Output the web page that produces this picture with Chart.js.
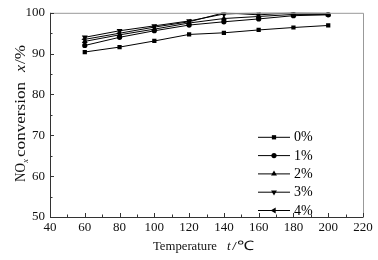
<!DOCTYPE html>
<html><head><meta charset="utf-8">
<script src="https://cdn.jsdelivr.net/npm/chart.js@4/dist/chart.umd.min.js"></script>
<style>html,body{margin:0;padding:0;background:#fff}#wrap{width:378px;height:260px}</style>
</head><body><div id="wrap"><canvas id="c" width="378" height="260"></canvas></div>
<script>
const temps = [60, 80, 100, 120, 140, 160, 180, 200];
const s0 = [90.4, 91.6, 93.1, 94.7, 95.1, 95.8, 96.4, 96.9];
const s1 = [92.0, 94.0, 95.6, 97.0, 97.8, 98.5, 99.3, 99.5];
const s2 = [93.0, 94.6, 96.0, 97.5, 98.6, 99.1, 99.6, 99.6];
const s3 = [94.0, 95.6, 96.8, 98.0, 99.7, 100.0, 100.0, 100.0];
const s4 = [93.5, 95.0, 96.5, 97.8, 100.0, 99.5, 100.0, 99.8];
const seriesNames = ['0%', '1%', '2%', '3%', '4%'];
const xTicks = [40, 60, 80, 100, 120, 140, 160, 180, 200, 220];
const yTicks = [50, 60, 70, 80, 90, 100];

const styles = [
  {ps:'rect', rot:0, r:3},
  {ps:'circle', rot:0, r:2.6},
  {ps:'triangle', rot:0, r:3.4},
  {ps:'triangle', rot:180, r:3.4},
  {ps:'triangle', rot:-90, r:3.4}
];
const allSeries = [s0, s1, s2, s3, s4];
const datasets = allSeries.map((s, i) => ({
  label: seriesNames[i],
  data: temps.map((t, j) => ({x: t, y: s[j]})),
  borderColor: '#000', backgroundColor: '#000', borderWidth: 1,
  pointStyle: styles[i].ps, pointRotation: styles[i].rot, pointRadius: styles[i].r,
  pointBorderWidth: 0, tension: 0
}));

const serif = '"Liberation Serif", "Times New Roman", serif';

function piece(ctx, text, pos, base, font, targetW) {
  ctx.save();
  ctx.font = font;
  const w = ctx.measureText(text).width;
  const sx = targetW ? targetW / w : 1;
  ctx.translate(pos, base);
  ctx.scale(sx, 1);
  ctx.fillText(text, 0, 0);
  ctx.restore();
}

const decor = {
  id: 'decor',
  afterDraw(chart) {
    const ctx = chart.ctx, a = chart.chartArea;
    const xs = chart.scales.x, ys = chart.scales.y;
    ctx.save();
    // frame
    ctx.strokeStyle = '#999'; ctx.lineWidth = 1;
    ctx.beginPath();
    ctx.moveTo(a.left, a.top + 0.5); ctx.lineTo(a.right + 0.5, a.top + 0.5); ctx.lineTo(a.right + 0.5, a.bottom);
    ctx.stroke();
    ctx.strokeStyle = '#333';
    ctx.beginPath();
    ctx.moveTo(a.left + 0.5, a.top); ctx.lineTo(a.left + 0.5, a.bottom + 0.5); ctx.lineTo(a.right + 0.5, a.bottom + 0.5);
    ctx.stroke();
    // inward ticks
    ctx.beginPath();
    for (let v = 40; v <= 220; v += 10) {
      const px = Math.round(xs.getPixelForValue(v)) + 0.5;
      const len = (v % 20 === 0) ? 4 : 2.5;
      ctx.moveTo(px, a.bottom); ctx.lineTo(px, a.bottom - len);
    }
    for (let v = 50; v <= 100; v += 5) {
      const py = Math.round(ys.getPixelForValue(v)) + 0.5;
      const len = (v % 10 === 0) ? 4 : 2.5;
      ctx.moveTo(a.left, py); ctx.lineTo(a.left + len, py);
    }
    ctx.stroke();
    // legend
    const lx0 = a.left + 208, lx1 = a.left + 240, ly0 = a.top + 124, dy = 18.3;
    chart.data.datasets.forEach((ds, i) => {
      const y = ly0 + i * dy;
      ctx.strokeStyle = '#000'; ctx.lineWidth = 1;
      ctx.beginPath(); ctx.moveTo(lx0, y + 0.5); ctx.lineTo(lx1, y + 0.5); ctx.stroke();
      ctx.fillStyle = '#000';
      Chart.helpers.drawPoint(ctx, {pointStyle: ds.pointStyle, rotation: ds.pointRotation, radius: ds.pointRadius, borderWidth: 0}, (lx0 + lx1) / 2, y + 0.5);
      ctx.font = '14px ' + serif;
      ctx.textBaseline = 'middle'; ctx.textAlign = 'left';
      ctx.fillText(ds.label, lx1 + 4, y + 1);
    });
    // x title
    ctx.fillStyle = '#111';
    ctx.textBaseline = 'alphabetic';
    ctx.textAlign = 'left';
    piece(ctx, 'Temperature', 153, 250, '13px ' + serif, 64);
    piece(ctx, 't', 227, 250, 'italic 13px ' + serif);
    piece(ctx, '/\u2103', 232, 250, '13px ' + serif, 22);
    // y title
    ctx.translate(25, 182);
    ctx.rotate(-Math.PI / 2);
    piece(ctx, 'NO', 0, 0, '14px ' + serif, 19);
    piece(ctx, 'x', 19, 3, 'italic 9px ' + serif);
    piece(ctx, 'conversion', 25, 0, '14px ' + serif, 75);
    piece(ctx, 'x', 110, 0, 'italic 14px ' + serif, 7);
    piece(ctx, '/%', 118, 0, '14px ' + serif, 19);
    ctx.restore();
  }
};

new Chart(document.getElementById('c'), {
  type: 'line',
  data: { datasets },
  options: {
    responsive: false, animation: false, devicePixelRatio: 1,
    layout: { padding: { left: 0, right: 15, top: 9, bottom: 0 } },
    plugins: { legend: { display: false }, tooltip: { enabled: false } },
    scales: {
      x: {
        type: 'linear', min: 40, max: 220,
        afterBuildTicks: s => { s.ticks = xTicks.map(v => ({value: v})); },
        afterFit: s => { s.height = 43; },
        grid: { display: false, drawTicks: false },
        border: { display: false },
        ticks: { color: '#111', font: { family: serif, size: 13 }, padding: 3, maxRotation: 0, autoSkip: false }
      },
      y: {
        type: 'linear', min: 50, max: 100,
        afterBuildTicks: s => { s.ticks = yTicks.map(v => ({value: v})); },
        afterFit: s => { s.width = 50; },
        grid: { display: false, drawTicks: false },
        border: { display: false },
        ticks: { color: '#111', font: { family: serif, size: 13 }, padding: 5, autoSkip: false }
      }
    }
  },
  plugins: [decor]
});
</script></body></html>
